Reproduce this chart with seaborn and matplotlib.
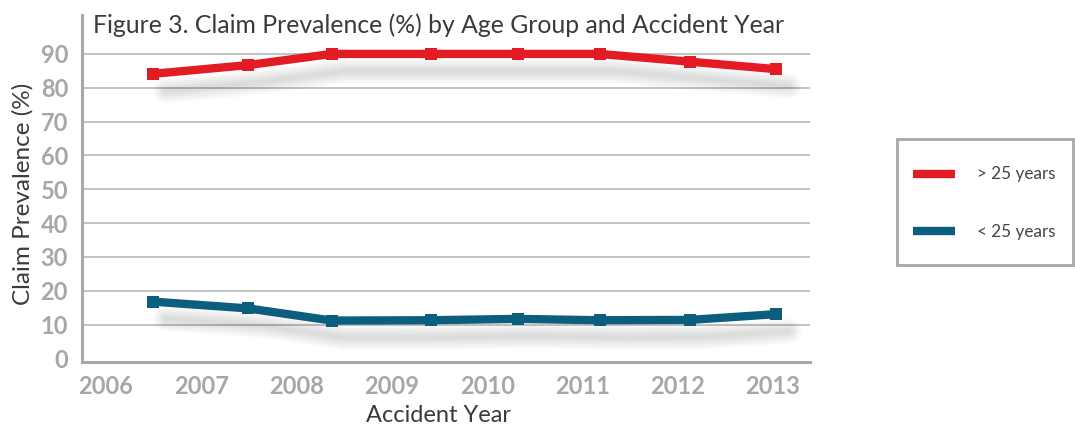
import numpy as np
import pandas as pd
import seaborn as sns
import matplotlib
matplotlib.use("Agg")
import matplotlib.pyplot as plt
from matplotlib import transforms
from matplotlib.patches import Rectangle

# Accident-year positions of the plotted points and claim prevalence (%)
years = [2006.49, 2007.49, 2008.37, 2009.41, 2010.32, 2011.18, 2012.13, 2013.03]
over_25 = [84.1, 86.7, 90.0, 90.0, 90.0, 90.0, 87.7, 85.5]
under_25 = [16.8, 14.8, 11.2, 11.3, 11.7, 11.3, 11.4, 13.1]
groups = ["> 25 years", "< 25 years"]
colors = ["#e31b24", "#0b5e7d"]
year_ticks = [2006, 2007, 2008, 2009, 2010, 2011, 2012, 2013]
pct_ticks = [0, 10, 20, 30, 40, 50, 60, 70, 80, 90]

title = "Figure 3. Claim Prevalence (%) by Age Group and Accident Year"
x_label = "Accident Year"
y_label = "Claim Prevalence (%)"

df = pd.DataFrame({
    "year": years * 2,
    "prevalence": over_25 + under_25,
    "group": [groups[0]] * len(years) + [groups[1]] * len(years),
})

sns.set_style("white")
plt.rcParams["font.family"] = ["Lato", "DejaVu Sans"]

W, H = 1075, 426
fig = plt.figure(figsize=(W / 100, H / 100), dpi=100)
ax = fig.add_axes([82 / W, 1 - 362.2 / H, (810 - 82) / W, (362.2 - 15) / H])

# soft drop shadow under each series: offset, stacked translucent strokes
shadow = transforms.offset_copy(ax.transData, fig=fig, x=13, y=-17, units="dots")
for vals in (over_25, under_25):
    for w in (18, 15.5, 13, 10.5, 8, 5.5, 3):
        ax.plot(years, vals, color="black", alpha=0.019, lw=w,
                solid_capstyle="round", transform=shadow, zorder=1)

sns.lineplot(data=df, x="year", y="prevalence", hue="group",
             palette=dict(zip(groups, colors)), hue_order=groups,
             marker="s", markersize=8.5, markeredgewidth=0, lw=6,
             dashes=False, legend=False, sort=False, ax=ax, zorder=3)

ax.set_xlim(2005.748, 2013.388)
ax.set_ylim(-1.1, 101.5)
ax.set_xticks(year_ticks)
ax.set_yticks(pct_ticks)
ax.set_xticklabels([str(y) for y in year_ticks])
ax.set_yticklabels([str(v) for v in pct_ticks])
ax.set_xlabel("")
ax.set_ylabel("")

ax.yaxis.grid(True, color="#bdbdbd", lw=1.3, zorder=0)
ax.xaxis.grid(False)
ax.get_ygridlines()[0].set_visible(False)
ax.set_axisbelow(True)

for side in ("top", "right"):
    ax.spines[side].set_visible(False)
for side in ("left", "bottom"):
    ax.spines[side].set_color("#a8a8a8")
    ax.spines[side].set_linewidth(2.2)

ax.tick_params(axis="both", length=0, labelcolor="#a7a7a9", labelsize=17)
ax.tick_params(axis="y", pad=10)
ax.tick_params(axis="x", pad=9.5)
for lab in ax.get_xticklabels() + ax.get_yticklabels():
    lab.set_fontweight("bold")

text_color = "#3a3a3a"
fig.text(93 / W, 1 - 33 / H, title, ha="left", va="baseline",
         fontsize=17.8, fontweight="normal", color=text_color)
fig.text(23 / W, 1 - 194 / H, y_label, rotation=90, ha="center", va="center",
         fontsize=17.5, fontweight="normal", color=text_color)
fig.text(438 / W, 1 - 415 / H, x_label, ha="center", va="center",
         fontsize=17, fontweight="normal", color=text_color)

# legend box
fig.patches.append(Rectangle((897 / W, 1 - 265 / H), (1073 - 897) / W, (265 - 139) / H,
                             transform=fig.transFigure, fill=False,
                             edgecolor="#a8a8a8", lw=2))
handles = ax.get_lines()[-2:]
leg = fig.legend(handles, groups, loc="center left",
                 bbox_to_anchor=(913 / W, 1 - 203 / H), frameon=False,
                 fontsize=12.3, handlelength=2.45, handletextpad=1.3,
                 labelspacing=2.4, borderpad=0, borderaxespad=0)
for t in leg.get_texts():
    t.set_color("#444444")
for h in leg.legend_handles:
    h.set_marker("")
    h.set_linewidth(6)
    h.set_solid_capstyle("butt")

fig.savefig("out.png", dpi=100, facecolor="white")
